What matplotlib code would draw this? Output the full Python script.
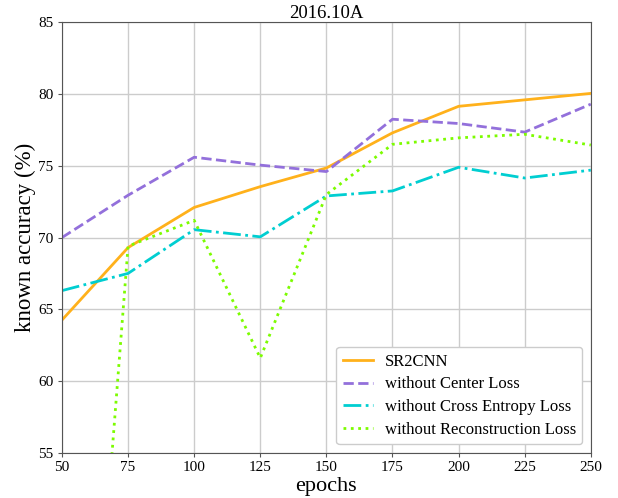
import numpy as np
import matplotlib
matplotlib.use('Agg')
import matplotlib.pyplot as plt

epochs = [50, 75, 100, 125, 150, 175, 200, 225, 250]
sr2cnn = [64.25, 69.3, 72.1, 73.55, 74.85, 77.3, 79.15, 79.6, 80.05]
no_center = [70.0, 72.95, 75.6, 75.05, 74.6, 78.25, 77.95, 77.35, 79.3]
no_ce = [66.3, 67.5, 70.55, 70.05, 72.9, 73.25, 74.9, 74.15, 74.7]
no_recon = [10.0, 69.4, 71.2, 61.6, 73.0, 76.5, 76.95, 77.2, 76.45]

plt.rcParams['font.family'] = ['Liberation Serif', 'DejaVu Serif']

fig = plt.figure(figsize=(6.18, 4.98), dpi=100)
ax = fig.add_axes([0.1003, 0.091, 0.8557, 0.864])

ax.plot(epochs, sr2cnn, color='#FFB11B', lw=2, ls='-', label='SR2CNN')
ax.plot(epochs, no_center, color='mediumpurple', lw=2, ls='--', label='without Center Loss')
ax.plot(epochs, no_ce, color='darkturquoise', lw=2, ls='-.', label='without Cross Entropy Loss')
ax.plot(epochs, no_recon, color='lawngreen', lw=2, ls=':', label='without Reconstruction Loss')

ax.set_xlim(50, 250)
ax.set_ylim(55, 85)
ax.set_xticks(epochs)
ax.set_yticks([55, 60, 65, 70, 75, 80, 85])
ax.grid(True, color='#cccccc', lw=1)
ax.set_axisbelow(True)
for s in ax.spines.values():
    s.set_color('#555555')
ax.tick_params(labelsize=11, color='#555555', length=3, pad=3)

ax.set_title('2016.10A', fontsize=13.5, pad=3)
ax.set_xlabel('epochs', fontsize=16, labelpad=2)
ax.set_ylabel('known accuracy (%)', fontsize=16.5, labelpad=2)
ax.legend(loc='lower right', fontsize=12, framealpha=1, borderaxespad=0.5,
          labelspacing=0.4, handlelength=1.8, handletextpad=0.7)

fig.savefig('out.png', dpi=100)
